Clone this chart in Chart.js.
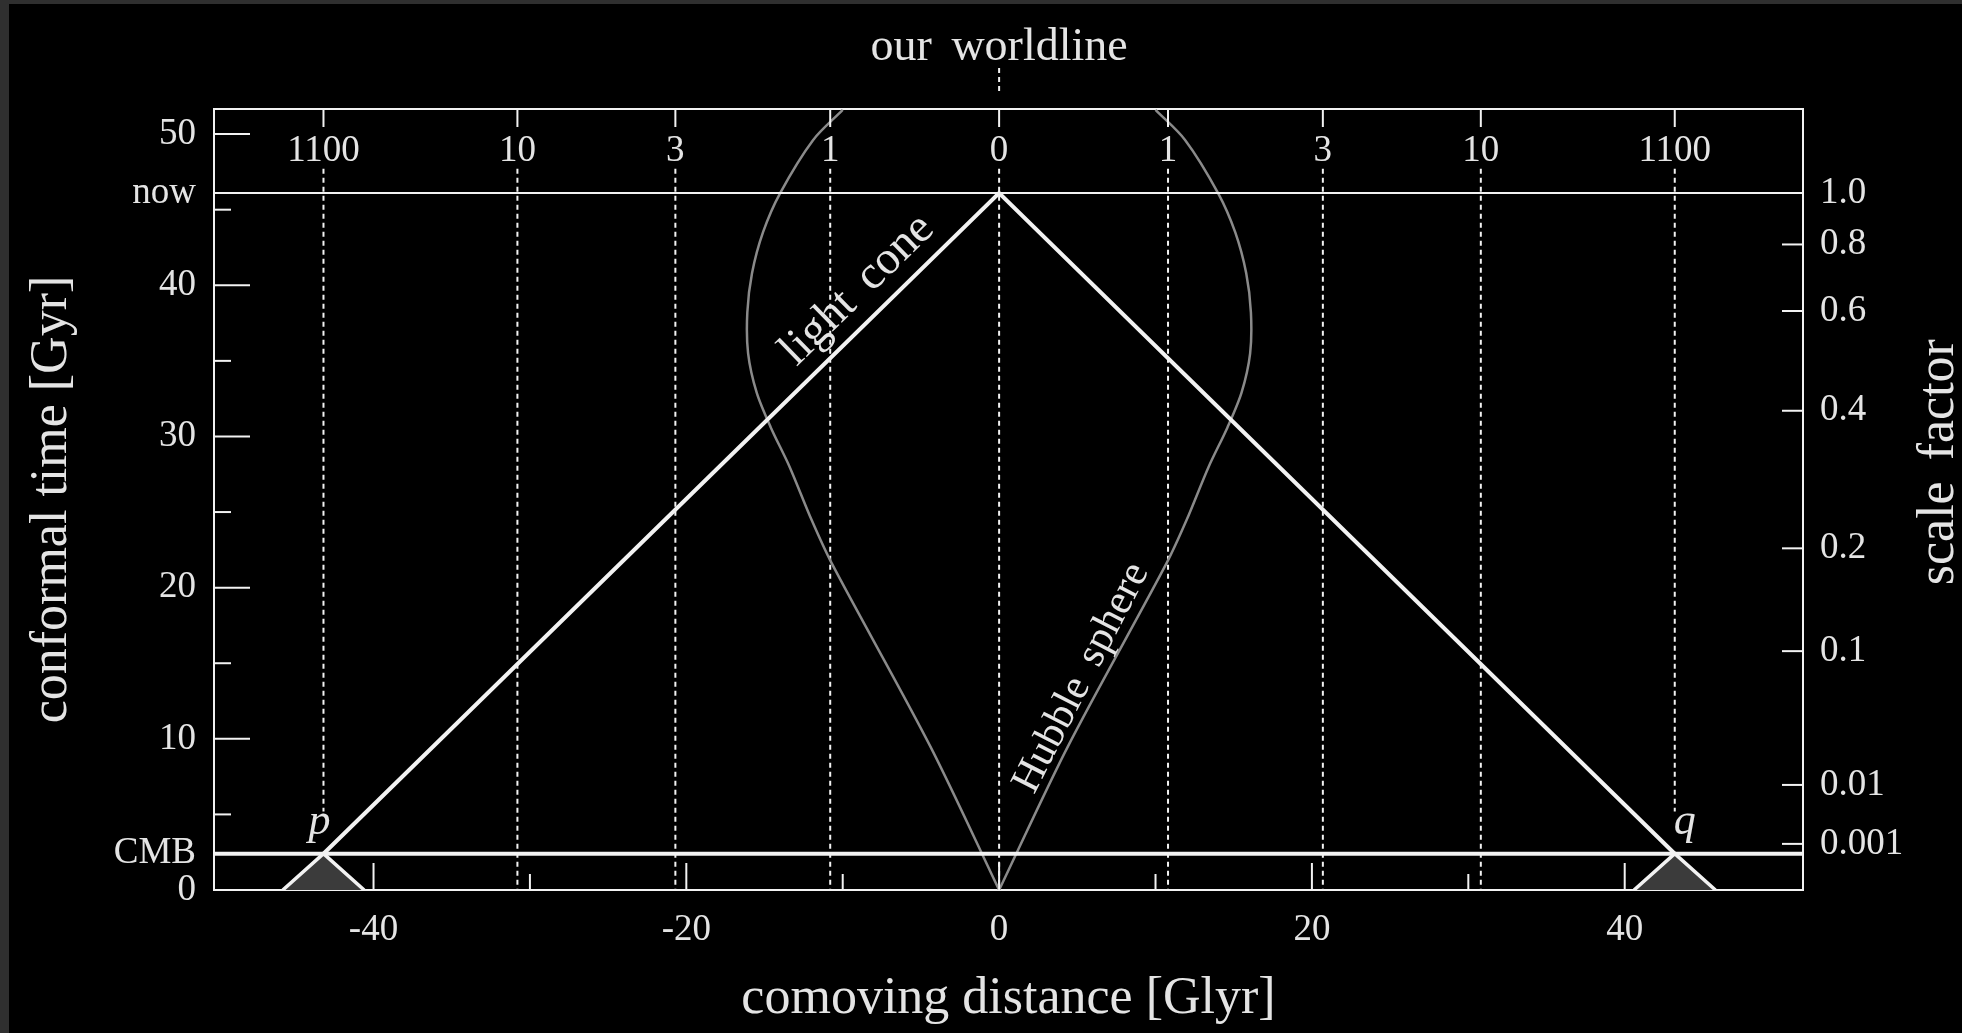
<!DOCTYPE html>
<html lang="en">
<head>
  <meta charset="UTF-8">
  <title>Conformal diagram</title>
  <script src="https://cdn.jsdelivr.net/npm/chart.js"></script>
  <style>
    html, body { margin: 0; padding: 0; background: #000; }
    canvas { display: block; }
  </style>
</head>
<body>
  <canvas id="diagram" width="1962" height="1033"></canvas>
  <script>
    // conformal time [Gyr] and comoving distance [Glyr]
    const nowTime = 46.1;
    const cmbTime = 2.4;
    const timeTicks = [0, 5, 10, 15, 20, 25, 30, 35, 40, 45, 50];
    const distTicks = [-40, -30, -20, -10, 0, 10, 20, 30, 40];

    // redshift marks along the top
    const zLabels = ['1100', '10', '3', '1', '0', '1', '3', '10', '1100'];
    const zDist = [-43.2, -30.8, -20.7, -10.8, 0, 10.8, 20.7, 30.8, 43.2];
    const zLineEnd = [5.2, 0, 0, 0, 0, 0, 0, 0, 5.2];
    const zLineTop = 47.7;

    // scale factor on the right
    const aLabels = ['0.001', '0.01', '0.1', '0.2', '0.4', '0.6', '0.8', '1.0'];
    const aTimes = [3.05, 6.95, 15.8, 22.6, 31.7, 38.3, 42.7, 46.1];

    // our past light cone, ending at p and q on the CMB
    const coneDist = [-43.2, 0, 43.2];
    const coneTime = [2.4, 46.1, 2.4];
    // past light cones of p and q
    const pConeDist = [-45.8, -43.2, -40.6];
    const qConeDist = [40.6, 43.2, 45.8];
    const smallConeTime = [0, 2.4, 0];

    // Hubble sphere
    const hubbleTime  = [0, 9.5, 21.6, 24.5, 28.0, 30.6, 32.9, 35.5, 38.2, 40.8, 43.5, 46.1, 49.6, 51.6];
    const hubbleLeft  = [0, -4.4, -10.7, -12.0, -13.4, -14.6, -15.5, -16.05, -16.1, -15.8, -15.1, -14.0, -11.9, -10.0];
    const hubbleRight = [0, 4.4, 10.7, 12.0, 13.4, 14.6, 15.5, 16.05, 16.1, 15.8, 15.1, 14.0, 11.9, 10.0];

    const xMin = -50.2, xMax = 51.4, yMin = 0, yMax = 51.66;

    const white = '#f2f2f2';
    const textColor = '#e4e4e4';
    const serif = "'Liberation Serif', 'DejaVu Serif', serif";
    const tickFont = { family: serif, size: 37 };
    const titleFont = { family: serif, size: 52 };

    const pts = (xs, ys) => xs.map((x, i) => ({ x: x, y: ys[i] }));
    const line = (data, extra) => Object.assign({
      data: data, showLine: true, pointRadius: 0, fill: false,
      borderColor: white, borderWidth: 2, tension: 0
    }, extra);

    const datasets = [
      line(pts(coneDist, coneTime), { borderWidth: 4, order: 0 }),
      line(pts([xMin, xMax], [cmbTime, cmbTime]), { borderWidth: 4, order: 1 }),
      line(pts([xMin, xMax], [nowTime, nowTime]), { borderWidth: 2, order: 2 }),
      line(pts(pConeDist, smallConeTime), { borderWidth: 3.5, fill: 'origin', backgroundColor: '#3b3b3b', order: 3 }),
      line(pts(qConeDist, smallConeTime), { borderWidth: 3.5, fill: 'origin', backgroundColor: '#3b3b3b', order: 3 }),
      line(pts(hubbleLeft, hubbleTime), { borderColor: '#8a8a8a', borderWidth: 2.5, tension: 0.3, order: 4 }),
      line(pts(hubbleRight, hubbleTime), { borderColor: '#8a8a8a', borderWidth: 2.5, tension: 0.3, order: 4 })
    ];
    zDist.forEach((d, i) => {
      datasets.push(line(pts([d, d], [zLineTop, zLineEnd[i]]), { borderDash: [5, 4], borderWidth: 2, order: 5 }));
    });

    const noGrid = { display: false, drawTicks: false };
    const frame = { display: true, color: white, width: 2 };

    const backdrop = {
      id: 'backdrop',
      beforeDraw(chart) {
        const ctx = chart.ctx;
        ctx.save();
        ctx.fillStyle = '#2f2f2f';
        ctx.fillRect(0, 0, chart.width, chart.height);
        ctx.fillStyle = '#000';
        ctx.fillRect(9, 4, chart.width - 9, chart.height - 4);
        ctx.restore();
      }
    };

    const marks = {
      id: 'marks',
      afterDraw(chart) {
        const { ctx, chartArea: area } = chart;
        const sx = chart.scales.x, sy = chart.scales.y;
        const X = v => sx.getPixelForValue(v), Y = v => sy.getPixelForValue(v);
        ctx.save();
        ctx.strokeStyle = white;
        ctx.lineWidth = 2;
        const seg = (x1, y1, x2, y2) => { ctx.beginPath(); ctx.moveTo(x1, y1); ctx.lineTo(x2, y2); ctx.stroke(); };

        // inward tick marks
        distTicks.forEach(v => seg(X(v), area.bottom, X(v), area.bottom - (v % 20 === 0 ? 27 : 16)));
        timeTicks.forEach(v => seg(area.left, Y(v), area.left + (v % 10 === 0 ? 36 : 17), Y(v)));
        aTimes.forEach((v, i) => { if (aLabels[i] !== '1.0') seg(area.right, Y(v), area.right - 21, Y(v)); });
        zDist.forEach(v => seg(X(v), area.top, X(v), area.top + 18));

        // our worldline above the frame
        ctx.setLineDash([5, 4]);
        seg(X(0), area.top - 41, X(0), area.top - 14);
        ctx.setLineDash([]);

        ctx.fillStyle = textColor;
        ctx.textAlign = 'center';
        ctx.textBaseline = 'alphabetic';
        ctx.font = '46px ' + serif;
        try { ctx.wordSpacing = '8px'; } catch (e) {}
        ctx.fillText('our worldline', X(0), area.top - 49);

        // p and q
        ctx.font = 'italic 44px ' + serif;
        ctx.fillText('p', X(coneDist[0]) - 4, Y(cmbTime) - 20);
        ctx.fillText('q', X(coneDist[2]) + 10, Y(cmbTime) - 20);

        // labels along the curves
        const along = (text, size, d, t, d1, t1, d2, t2) => {
          const ang = Math.atan2(Y(t2) - Y(t1), X(d2) - X(d1));
          ctx.save();
          ctx.translate(X(d), Y(t));
          ctx.rotate(ang);
          ctx.font = size + 'px ' + serif;
          ctx.fillText(text, 0, 0);
          ctx.restore();
        };
        along('light cone', 47, -8.5, 39.1, coneDist[0], coneTime[0], coneDist[1], coneTime[1]);
        along('Hubble sphere', 42, 5.9, 13.7, hubbleRight[0], hubbleTime[0], hubbleRight[2], hubbleTime[2]);

        // right axis title
        ctx.save();
        ctx.translate(chart.scales.y2.right - 9, Y(28.3));
        ctx.rotate(-Math.PI / 2);
        ctx.font = titleFont.size + 'px ' + serif;
        ctx.fillText('scale factor', 0, 0);
        ctx.restore();

        ctx.restore();
      }
    };

    new Chart(document.getElementById('diagram'), {
      type: 'scatter',
      data: { datasets: datasets },
      plugins: [backdrop, marks],
      options: {
        responsive: false,
        animation: false,
        devicePixelRatio: 1,
        layout: { padding: 0 },
        plugins: { legend: { display: false }, tooltip: { enabled: false } },
        scales: {
          x: {
            type: 'linear', position: 'bottom', min: xMin, max: xMax,
            afterBuildTicks: s => { s.ticks = distTicks.map(v => ({ value: v })); },
            afterFit: s => { s.height = 143; },
            grid: noGrid, border: frame,
            ticks: {
              autoSkip: false, maxRotation: 0, padding: 18, color: textColor, font: tickFont,
              callback: v => (v % 20 === 0 ? String(v) : '')
            },
            title: { display: true, text: 'comoving distance [Glyr]', color: textColor, font: titleFont, padding: { top: 0, bottom: 2 } }
          },
          x2: {
            type: 'linear', position: 'top', min: xMin, max: xMax,
            afterBuildTicks: s => { s.ticks = zDist.map(v => ({ value: v })); },
            afterFit: s => { s.height = 109; },
            grid: noGrid, border: frame,
            ticks: {
              autoSkip: false, maxRotation: 0, mirror: true, padding: 20, color: textColor, font: tickFont,
              callback: (v, i) => zLabels[i]
            }
          },
          y: {
            type: 'linear', position: 'left', min: yMin, max: yMax,
            afterBuildTicks: s => {
              s.ticks = timeTicks.concat([cmbTime, nowTime]).sort((a, b) => a - b).map(v => ({ value: v }));
            },
            afterFit: s => { s.width = 214; },
            grid: noGrid, border: frame,
            ticks: {
              autoSkip: false, padding: 18, color: textColor, font: tickFont,
              callback: v => (v === cmbTime ? 'CMB' : v === nowTime ? 'now' : v % 10 === 0 ? String(v) : '')
            },
            title: { display: true, text: 'conformal time [Gyr]', color: textColor, font: titleFont, padding: { top: 21, bottom: 0 } }
          },
          y2: {
            type: 'linear', position: 'right', min: yMin, max: yMax,
            afterBuildTicks: s => { s.ticks = aTimes.map(v => ({ value: v })); },
            afterFit: s => { s.width = 159; },
            grid: noGrid, border: frame,
            ticks: {
              autoSkip: false, padding: 17, color: textColor, font: tickFont,
              callback: (v, i) => aLabels[i]
            }
          }
        }
      }
    });
  </script>
</body>
</html>
